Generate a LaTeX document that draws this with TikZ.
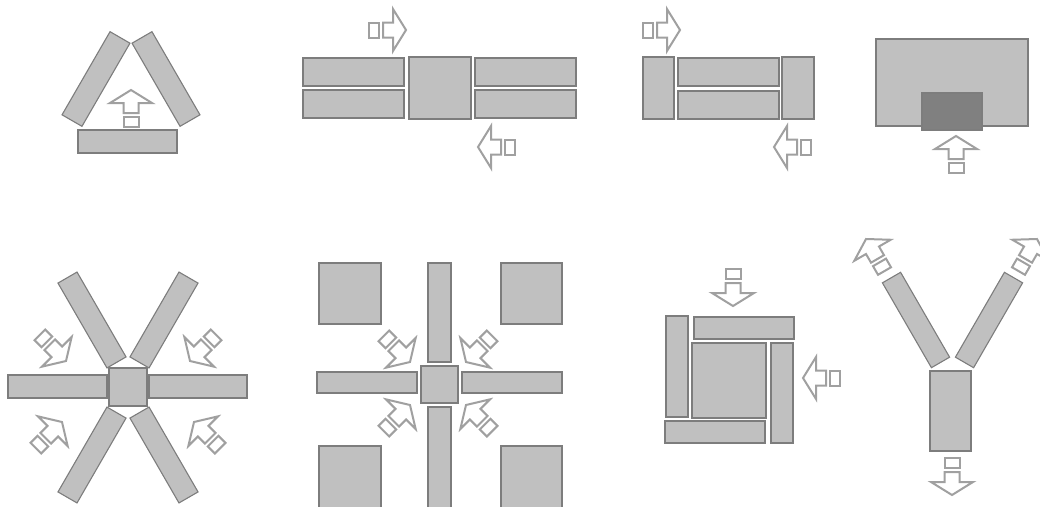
\documentclass[tikz,border=0pt]{standalone}
\usetikzlibrary{calc}
\definecolor{slabfill}{RGB}{192,192,192}
\definecolor{slabedge}{RGB}{125,125,125}
\definecolor{darkfill}{RGB}{128,128,128}
\definecolor{arrowedge}{RGB}{160,160,160}
\newcommand\slabat[5]{\draw[slab,shift={(#1,#2)},rotate=#5] ({-#3/2},{-#4/2}) rectangle ({#3/2},{#4/2});}
\begin{document}
\begin{tikzpicture}[x=1pt,y=-1pt,
  slab/.style={draw=slabedge,fill=slabfill,line width=1.1pt},
  arrowline/.style={draw=arrowedge,fill=white,line width=2pt,line join=miter},
  flowarrow/.pic={
   \draw[arrowline] (0,0)--(-13,21)--(-13,7.5)--(-23,7.5)--(-23,-7.5)--(-13,-7.5)--(-13,-21)--cycle;
   \draw[arrowline] (-27,-7.5) rectangle (-37,7.5);}]
 \useasboundingbox (0,0) rectangle (1040,506);
 % top row
 \draw[slab] (78,130) rectangle (177,153);
 \slabat{96}{79}{96}{23}{60}
 \slabat{166}{79}{96}{23}{120}
 \pic[rotate=90] at (131,90) {flowarrow};
 \draw[slab] (303,58) rectangle (404,86) (303,90) rectangle (404,118);
 \draw[slab] (409,57) rectangle (471,119);
 \draw[slab] (475,58) rectangle (576,86) (475,90) rectangle (576,118);
 \pic at (406,30) {flowarrow};
 \pic[rotate=180] at (478,147) {flowarrow};
 \draw[slab] (643,57) rectangle (674,119) (782,57) rectangle (814,119);
 \draw[slab] (678,58) rectangle (779,86) (678,91) rectangle (779,119);
 \pic at (680,30) {flowarrow};
 \pic[rotate=180] at (774,147) {flowarrow};
 \draw[slab] (876,39) rectangle (1028,126);
 \draw[slab,fill=darkfill] (922,93) rectangle (982,130);
 \pic[rotate=90] at (956,136) {flowarrow};
 % bottom row
 \draw[slab] (109,368) rectangle (147,406);
 \draw[slab] (8,375) rectangle (107,398) (149,375) rectangle (247,398);
 \slabat{92}{320}{98}{22}{120}
 \slabat{164}{320}{98}{22}{60}
 \slabat{92}{455}{98}{22}{60}
 \slabat{164}{455}{98}{22}{120}
 \pic[rotate=-45] at (66,361) {flowarrow};
 \pic[rotate=-135] at (190,361) {flowarrow};
 \pic[rotate=45] at (62,422) {flowarrow};
 \pic[rotate=135] at (194,422) {flowarrow};
 \draw[slab] (421,366) rectangle (458,403);
 \draw[slab] (428,263) rectangle (451,362) (428,407) rectangle (451,512);
 \draw[slab] (317,372) rectangle (417,393) (462,372) rectangle (562,393);
 \draw[slab] (319,263) rectangle (381,324) (501,263) rectangle (562,324);
 \draw[slab] (319,446) rectangle (381,512) (501,446) rectangle (562,512);
 \pic[rotate=-45] at (410,362) {flowarrow};
 \pic[rotate=-135] at (466,362) {flowarrow};
 \pic[rotate=45] at (410,405) {flowarrow};
 \pic[rotate=135] at (466,405) {flowarrow};
 \draw[slab] (666,316) rectangle (688,417) (694,317) rectangle (794,339);
 \draw[slab] (692,343) rectangle (766,418);
 \draw[slab] (771,343) rectangle (793,443) (665,421) rectangle (765,443);
 \pic[rotate=-90] at (733,306) {flowarrow};
 \pic[rotate=180] at (803,378) {flowarrow};
 \draw[slab] (930,371) rectangle (971,451);
 \slabat{916}{320}{98}{21}{120}
 \slabat{989}{320}{98}{21}{60}
 \pic[rotate=-90] at (952,495) {flowarrow};
 \pic[rotate=120] at (866,239) {flowarrow};
 \pic[rotate=60] at (1037,239) {flowarrow};
\end{tikzpicture}
\end{document}
